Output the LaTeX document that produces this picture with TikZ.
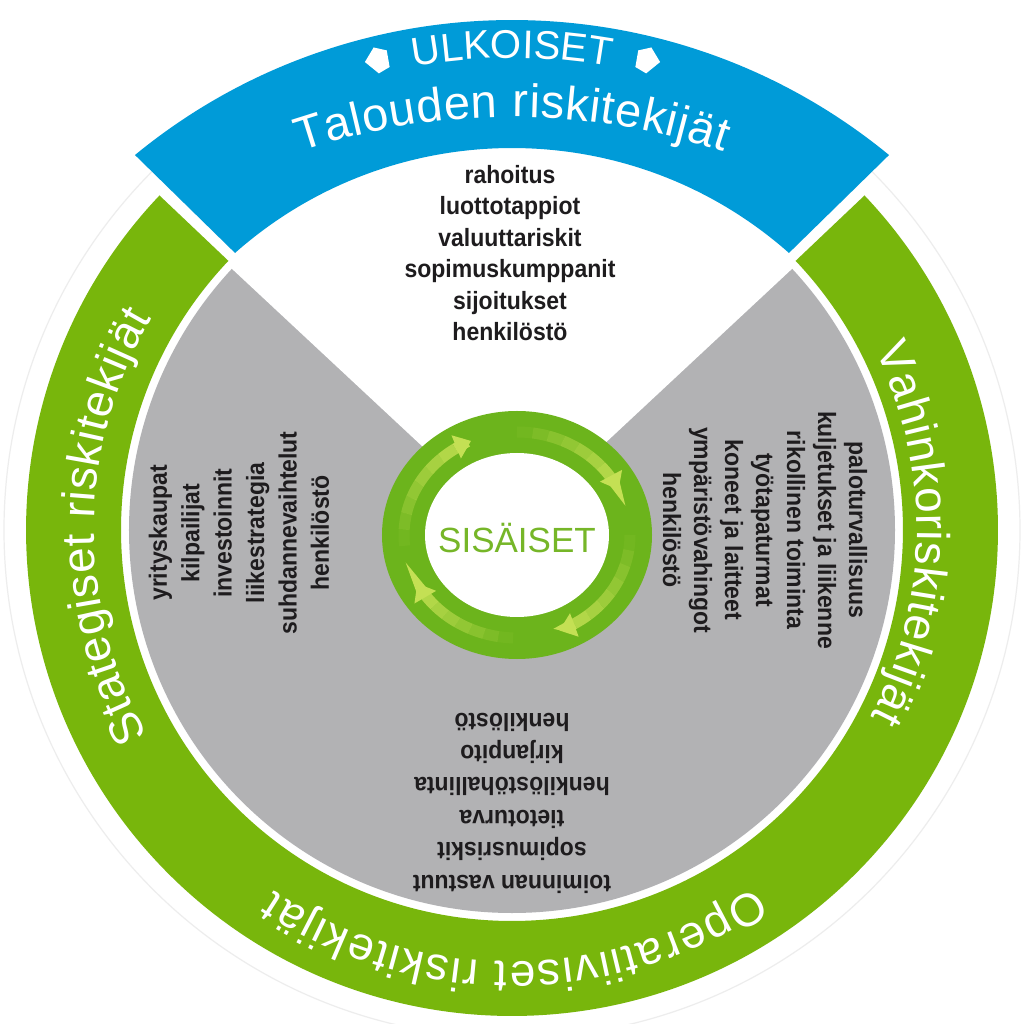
\documentclass[tikz,border=0pt]{standalone}
\usepackage{fontspec}
\setmainfont{Liberation Sans}
\newfontfamily\listfont{Liberation Sans}[FakeStretch=0.92]
\usetikzlibrary{decorations.text,arrows.meta}
\definecolor{greenC}{RGB}{120,182,12}
\definecolor{blueC}{RGB}{0,155,216}
\definecolor{grayC}{RGB}{178,178,180}
\definecolor{ringC}{RGB}{108,180,28}
\definecolor{arrowC}{RGB}{196,224,84}
\definecolor{sisC}{RGB}{118,182,40}
\definecolor{listC}{RGB}{30,28,30}
\newcommand\lblfont{\fontsize{46}{52}\selectfont\color{white}}
\newcommand\topfont{\fontsize{47}{52}\selectfont\color{white}}
\newcommand\ulkfont{\fontsize{40}{46}\selectfont\color{white}}
\begin{document}
\begin{tikzpicture}[x=1pt,y=1pt,
  listtext/.style={font=\listfont\bfseries\fontsize{25}{31.5}\selectfont, text=listC, align=center, inner sep=0pt},
  arclabel/.style={decorate, decoration={text along path, text={|\lblfont|#1}, text align={fit to path}}},
  toplabel/.style={decorate, decoration={text along path, text={|\topfont|#1}, text align={fit to path}}},
  ulklabel/.style={decorate, decoration={text along path, text={|\ulkfont|#1}, text align=center}},
  ringarrow/.style={arrowC, line width=11pt},
  mark sym/.style={fill=white},
]
\useasboundingbox (-512,-494) rectangle (512,530);
\fill[white] (-512,-494) rectangle (512,530);
% faint outer circle
\draw[black!7, line width=1.2pt] (0,0) circle (508);
% grey disc and white top wedge
\fill[grayC] (0,0) circle (383);
\fill[white] (0,0) -- (43:420) arc[start angle=43, end angle=137, radius=420] -- cycle;
% green ring
\fill[greenC] (43.5:486) arc[start angle=43.5, end angle=-223.5, radius=486]
  -- (136.5:391) arc[start angle=136.5, end angle=403.5, radius=391] -- cycle;
% blue band
\fill[blueC] ([shift={(0,-84)}]129.4:594) arc[start angle=129.4, end angle=50.6, radius=594]
  -- ([shift={(0,-36)}]48.5:418) arc[start angle=48.5, end angle=131.5, radius=418] -- cycle;
% inner ring
\fill[ringC] (5,-5) ellipse[x radius=135, y radius=124];
\fill[white] (5,-5) ellipse[x radius=92, y radius=82];
\foreach \s/\e in {186/114, 90/26, 0/-68, -92/-152}{
  \foreach \i in {0,...,6}{
    \pgfmathsetmacro\aa{\s+(\e-\s)*\i/8}
    \pgfmathsetmacro\bb{\s+(\e-\s)*(\i+1)/8}
    \pgfmathsetmacro\oo{0.08+0.12*\i}
    \draw[ringarrow, opacity=\oo] ([shift={(5,-5)}]\aa:113 and 103) arc[start angle=\aa, end angle=\bb, x radius=113, y radius=103];
  }
  \pgfmathsetmacro\aa{\s+(\e-\s)*7/8}
  \draw[ringarrow, -{Triangle[width=24pt,length=16pt]}] ([shift={(5,-5)}]\aa:113 and 103) arc[start angle=\aa, end angle=\e, x radius=113, y radius=103];
}
\node[text=sisC, font=\fontsize{35}{40}\selectfont, inner sep=0pt] (sis) at (5,-8) {SISÄISET};
% ring labels
\path[arclabel={Stategiset riskitekijät}] (209.5:418) arc[start angle=209.5, end angle=149.6, radius=418];
\path[arclabel={Vahinkoriskitekijät}] (26.4:405) arc[start angle=26.4, end angle=-27.5, radius=405];
\path[arclabel={Operatiiviset riskitekijät}] (-55.8:432) arc[start angle=-55.8, end angle=-123.4, radius=432];
\path[toplabel={Talouden riskitekijät}] ([shift={(0,-247)}]108.7:660) arc[start angle=108.7, end angle=71.3, radius=660];
\path[ulklabel={ULKOISET}] ([shift={(0,-84)}]110:556) arc[start angle=110, end angle=70, radius=556];
% small symbols beside ULKOISET
\fill[mark sym, shift={(-134,470)}, rotate=14, scale=1.2] (-11,1) -- (-1,11) -- (9,6) -- (8,-8) -- (-2,-11) -- cycle;
\fill[mark sym, shift={(135,470)}, rotate=-14, xscale=-1.2, yscale=1.2] (-11,1) -- (-1,11) -- (9,6) -- (8,-8) -- (-2,-11) -- cycle;
% lists
\node[listtext] (toplist) at (-2,277) {rahoitus\\luottotappiot\\valuuttariskit\\sopimuskumppanit\\sijoitukset\\henkilöstö};
\node[listtext, font=\listfont\bfseries\fontsize{25}{32.4}\selectfont, rotate=90] (leftlist) at (-273,-3) {yrityskaupat\\kilpailijat\\investoinnit\\liikestrategia\\suhdannevaihtelut\\henkilöstö};
\node[listtext, font=\listfont\bfseries\fontsize{25}{31}\selectfont, rotate=-90] (rightlist) at (253,0) {paloturvallisuus\\kuljetukset ja liikenne\\rikollinen toiminta\\työtapaturmat\\koneet ja laitteet\\ympäristövahingot\\henkilöstö};
\node[listtext, font=\listfont\bfseries\fontsize{25}{32.4}\selectfont, rotate=180] (bottomlist) at (0,-273) {toiminnan vastuut\\sopimusriskit\\tietoturva\\henkilöstöhallinta\\kirjanpito\\henkilöstö};
\end{tikzpicture}
\end{document}
